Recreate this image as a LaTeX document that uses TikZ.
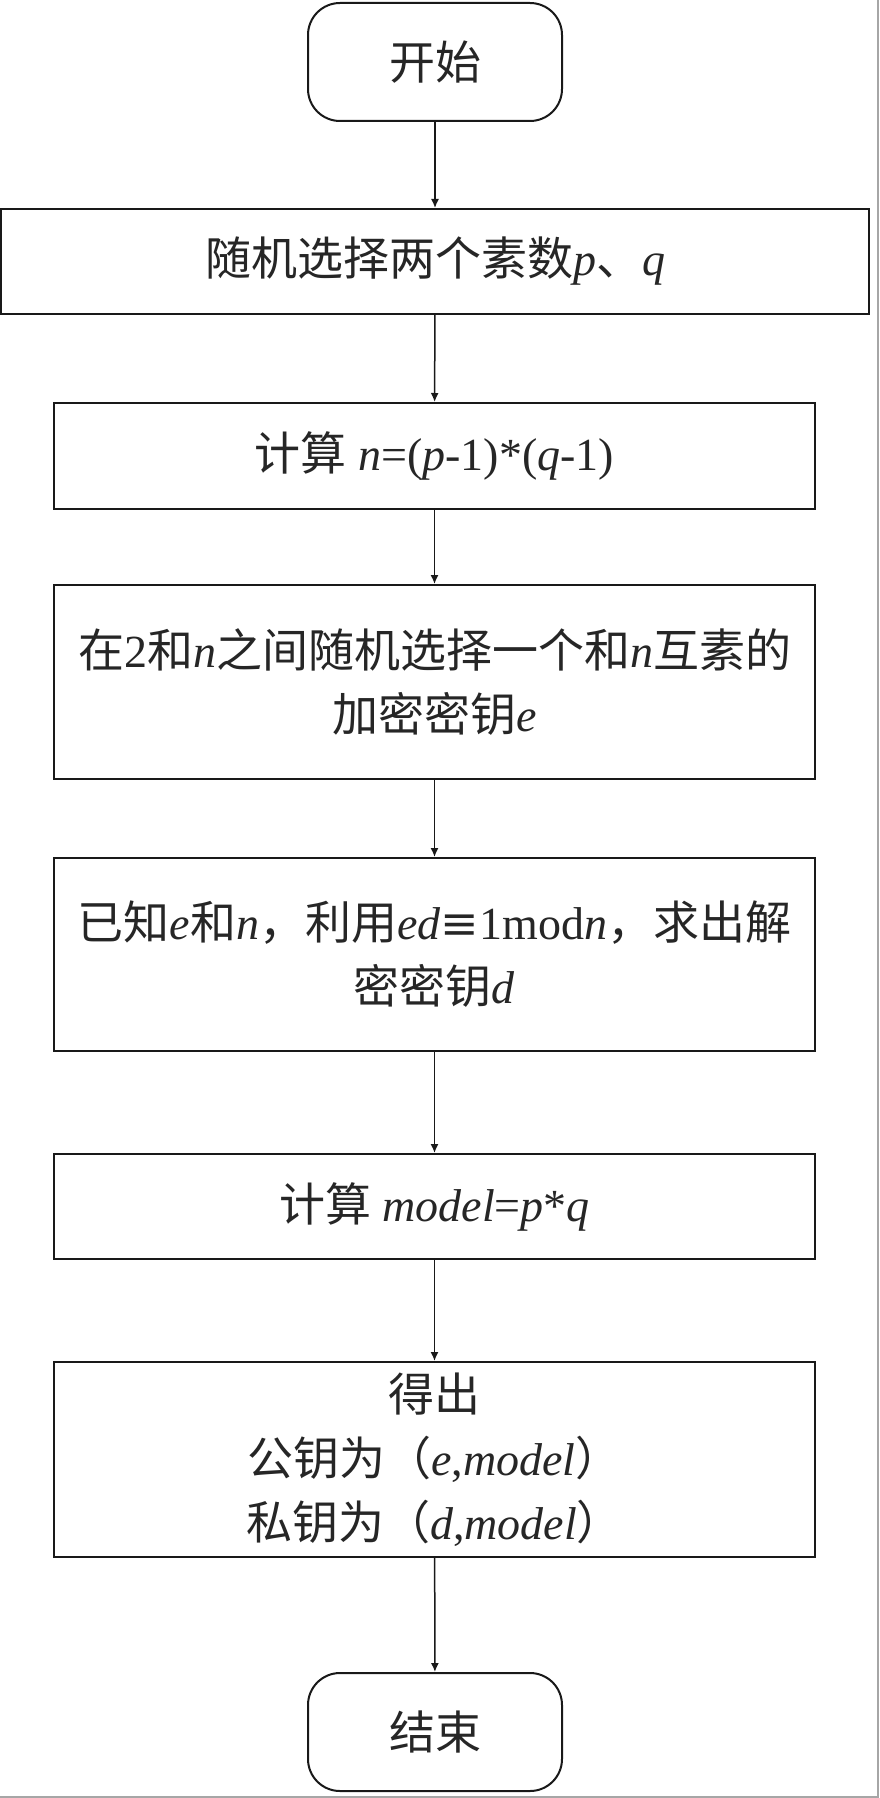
\documentclass[tikz,border=0pt]{standalone}
\usepackage{fontspec}
\setmainfont{Liberation Serif}
\newfontfamily\cjk{Noto Sans CJK SC}
\newfontfamily\symfont{DejaVu Serif}
\usetikzlibrary{arrows.meta}
\begin{document}
\begin{tikzpicture}[x=1pt,y=-1pt,
  every node/.style={text=black!85},
  txt/.style={font=\fontsize{46}{64}\selectfont, align=center, inner sep=0pt},
  procbox/.style={txt, draw=black!90, line width=2pt, minimum width=761pt},
  termbox/.style={txt, draw=black!90, line width=2pt, rounded corners=32pt, minimum width=254pt, minimum height=118pt},
  flow/.style={draw=black!90, line width=1.5pt, -{Latex[length=9pt,width=8pt]}}
]
\useasboundingbox (0,0) rectangle (879,1798);
\fill[white] (0,0) rectangle (879,1798);
\draw[black!35, line width=1.5pt] (878,0) -- (878,1797) -- (0,1797);

\node[termbox] (start) at (435,62) {\cjk 开始};
\node[procbox, minimum width=868pt, minimum height=105pt] (b1) at (435,261.5)
  {{\cjk 随机选择两个素数}\textit{p}{\cjk 、}\textit{q}};
\node[procbox, minimum height=106pt] (b2) at (434.5,456)
  {{\cjk 计算} \textit{n}=(\textit{p}-1)*(\textit{q}-1)};
\node[procbox, minimum height=194pt] (b3) at (434.5,682)
  {{\cjk 在}2{\cjk 和}\textit{n}{\cjk 之间随机选择一个和}\textit{n}{\cjk 互素的}\\{\cjk 加密密钥}\textit{e}};
\node[procbox, minimum height=193pt] (b4) at (434.5,954.5)
  {{\cjk 已知}\textit{e}{\cjk 和}\textit{n}{\cjk ，利用}\textit{ed}{\symfont ≡}1mod\textit{n}{\cjk ，求出解}\\{\cjk 密密钥}\textit{d}};
\node[procbox, minimum height=105pt] (b5) at (434.5,1206.5)
  {{\cjk 计算} \textit{model}=\textit{p}*\textit{q}};
\node[procbox, minimum height=195pt] (b6) at (434.5,1459.5)
  {{\cjk 得出}\\{\cjk 公钥为（}\textit{e},\textit{model}{\cjk ）}\\{\cjk 私钥为（}\textit{d},\textit{model}{\cjk ）}};
\node[termbox] (end) at (435,1732) {\cjk 结束};

\draw[flow] (start) -- (b1);
\draw[flow] (b1) -- (b2);
\draw[flow] (b2) -- (b3);
\draw[flow] (b3) -- (b4);
\draw[flow] (b4) -- (b5);
\draw[flow] (b5) -- (b6);
\draw[flow] (b6) -- (end);
\end{tikzpicture}
\end{document}
